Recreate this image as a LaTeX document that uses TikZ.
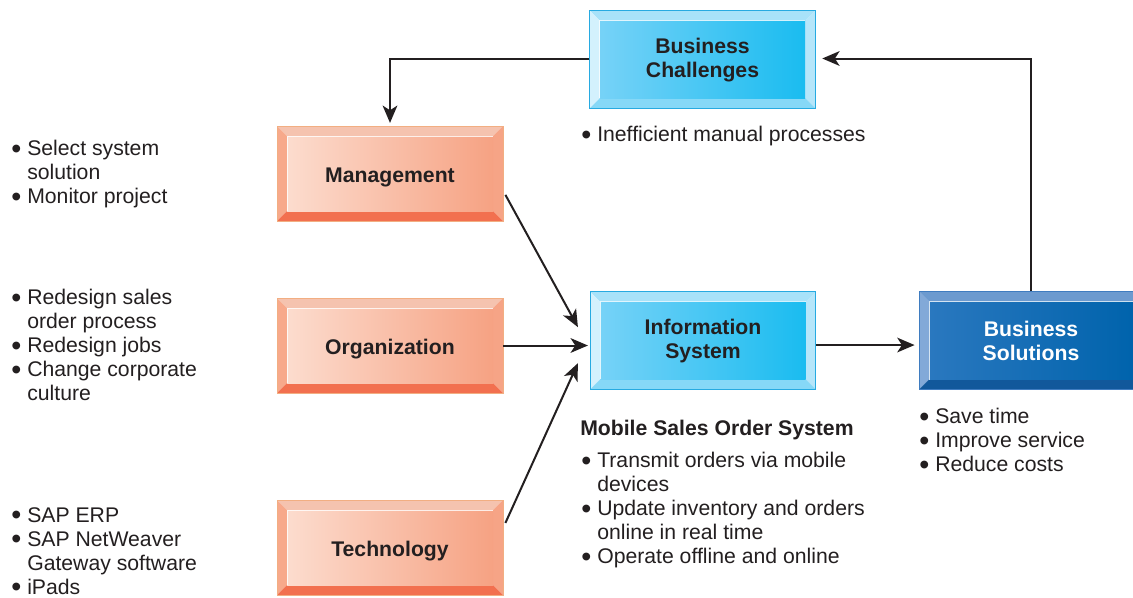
\documentclass[tikz,border=0pt]{standalone}
\usepackage{fontspec}
\setmainfont{Liberation Sans}
\usetikzlibrary{arrows.meta,calc}
\definecolor{ink}{HTML}{231F20}
% orange
\definecolor{oline}{HTML}{F2AE82}
\definecolor{otop}{HTML}{F5C3AF}
\definecolor{oleft}{HTML}{F7A98B}
\definecolor{oright}{HTML}{F6A486}
\definecolor{obot}{HTML}{F2704F}
\definecolor{ofaceA}{HTML}{FCDCCE}
\definecolor{ofaceB}{HTML}{F6A283}
% light blue
\definecolor{bline}{HTML}{27AAE1}
\definecolor{btop}{HTML}{A8E2F9}
\definecolor{bleft}{HTML}{D3F1FD}
\definecolor{bright}{HTML}{B6E6FA}
\definecolor{bbot}{HTML}{86D8F7}
\definecolor{bfaceA}{HTML}{76D2F7}
\definecolor{bfaceB}{HTML}{1ABCF0}
% dark blue
\definecolor{dline}{HTML}{3F7CC0}
\definecolor{dtop}{HTML}{6C9ACF}
\definecolor{dleft}{HTML}{82A9D8}
\definecolor{dright}{HTML}{2C6FB4}
\definecolor{dbot}{HTML}{11589B}
\definecolor{dfaceA}{HTML}{2A78BF}
\definecolor{dfaceB}{HTML}{0063AC}
\newcommand\mybevel[6]{%
  \coordinate (pNW) at (path picture bounding box.north west);
  \coordinate (pNE) at (path picture bounding box.north east);
  \coordinate (pSW) at (path picture bounding box.south west);
  \coordinate (pSE) at (path picture bounding box.south east);
  \fill[#1] (pNW) -- (pNE) -- ([shift={(-7.5pt,-7.5pt)}]pNE) -- ([shift={(7.5pt,-7.5pt)}]pNW) -- cycle;
  \fill[#2] (pNW) -- (pSW) -- ([shift={(7.5pt,7.5pt)}]pSW) -- ([shift={(7.5pt,-7.5pt)}]pNW) -- cycle;
  \fill[#3] (pNE) -- (pSE) -- ([shift={(-7.5pt,7.5pt)}]pSE) -- ([shift={(-7.5pt,-7.5pt)}]pNE) -- cycle;
  \fill[#4] (pSW) -- (pSE) -- ([shift={(-7.5pt,7.5pt)}]pSE) -- ([shift={(7.5pt,7.5pt)}]pSW) -- cycle;
  \shade[left color=#5, right color=#6] ([shift={(7.5pt,-7.5pt)}]pNW) rectangle ([shift={(-7.5pt,7.5pt)}]pSE);
  \draw[white, line width=0.6pt, opacity=0.8] ([shift={(7.5pt,7.5pt)}]pSW) -- ([shift={(7.5pt,-7.5pt)}]pNW) -- ([shift={(-7.5pt,-7.5pt)}]pNE);
}
\newcommand\bul{\makebox[12pt][l]{\raisebox{-0.12em}{\scalebox{1.35}{•}}}}
\newcommand\ind{\hspace*{12pt}}
\tikzset{
  lbl/.style={font=\fontsize{15.9pt}{18pt}\selectfont\bfseries, align=center, text=ink},
  box/.style={rectangle, inner sep=0pt, lbl, line width=0.6pt},
  obox/.style={box, minimum width=169.5pt, minimum height=71.25pt, draw=oline,
    text height=12.9pt, text depth=0pt,
    path picture={\mybevel{otop}{oleft}{oright}{obot}{ofaceA}{ofaceB}}},
  bbox/.style={box, minimum width=169pt, minimum height=73pt, draw=bline,
    path picture={\mybevel{btop}{bleft}{bright}{bbot}{bfaceA}{bfaceB}}},
  dbox/.style={box, minimum width=168pt, minimum height=73.5pt, draw=dline, text=white,
    path picture={\mybevel{dtop}{dleft}{dright}{dbot}{dfaceA}{dfaceB}}},
  lst/.style={anchor=north west, inner sep=0pt, align=left, text=ink,
    font=\fontsize{15.9pt}{18pt}\selectfont},
  arr/.style={draw=ink, line width=1.5pt, -{Stealth[length=13pt,width=11pt,inset=3.5pt]}},
}
\begin{document}
\begin{tikzpicture}[x=0.75pt,y=-0.75pt]
\useasboundingbox (0,0) rectangle (1133,597);
\fill[white] (0,0) rectangle (1133,597);

\node[bbox] (bc) at (702.5,59.5) {\strut Business\\Challenges};
\node[obox] (mgmt) at (390,173.5) {Management};
\node[obox] (org) at (390,345.5) {Organization};
\node[obox] (tech) at (390,547.5) {Technology};
\node[bbox] (is) at (703,340.5) {\strut Information\\System};
\node[dbox] (bs) at (1031,340.5) {\strut Business\\Solutions};

\node[lst] (bcl) at (581,126) {\bul Inefficient manual processes};
\node[lst] (mgl) at (11,140) {\bul Select system\\\ind solution\\\bul Monitor project};
\node[lst] (orl) at (11,289) {\bul Redesign sales\\\ind order process\\\bul Redesign jobs\\\bul Change corporate\\\ind culture};
\node[lst] (tel) at (11,507) {\bul SAP ERP\\\bul SAP NetWeaver\\\ind Gateway software\\\bul iPads};
\node[lst, font=\fontsize{15.9pt}{18pt}\selectfont\bfseries] (mst) at (580,420) {Mobile Sales Order System};
\node[lst] (isl) at (581,452) {\bul Transmit orders via mobile\\\ind devices\\\bul Update inventory and orders\\\ind online in real time\\\bul Operate offline and online};
\node[lst] (bsl) at (919,408) {\bul Save time\\\bul Improve service\\\bul Reduce costs};

\draw[arr, shorten >=2pt] ([yshift=0.75pt]bc.west) -| (mgmt.north);
\draw[arr, shorten >=5pt] (bs.north) |- ([yshift=0.75pt]bc.east);
\draw[arr] ([shift={(1.5pt,-16pt)}]mgmt.east) -- ([shift={(-9pt,10pt)}]is.west);
\draw[arr, shorten >=1.5pt] (org.east) -- (org.east -| is.west);
\draw[arr] ([shift={(1.5pt,18.4pt)}]tech.east) -- ([shift={(-9pt,-17pt)}]is.west);
\draw[arr, shorten >=3pt] ([yshift=-3.4pt]is.east) -- ([yshift=-3.4pt]is.east -| bs.west);
\end{tikzpicture}
\end{document}
